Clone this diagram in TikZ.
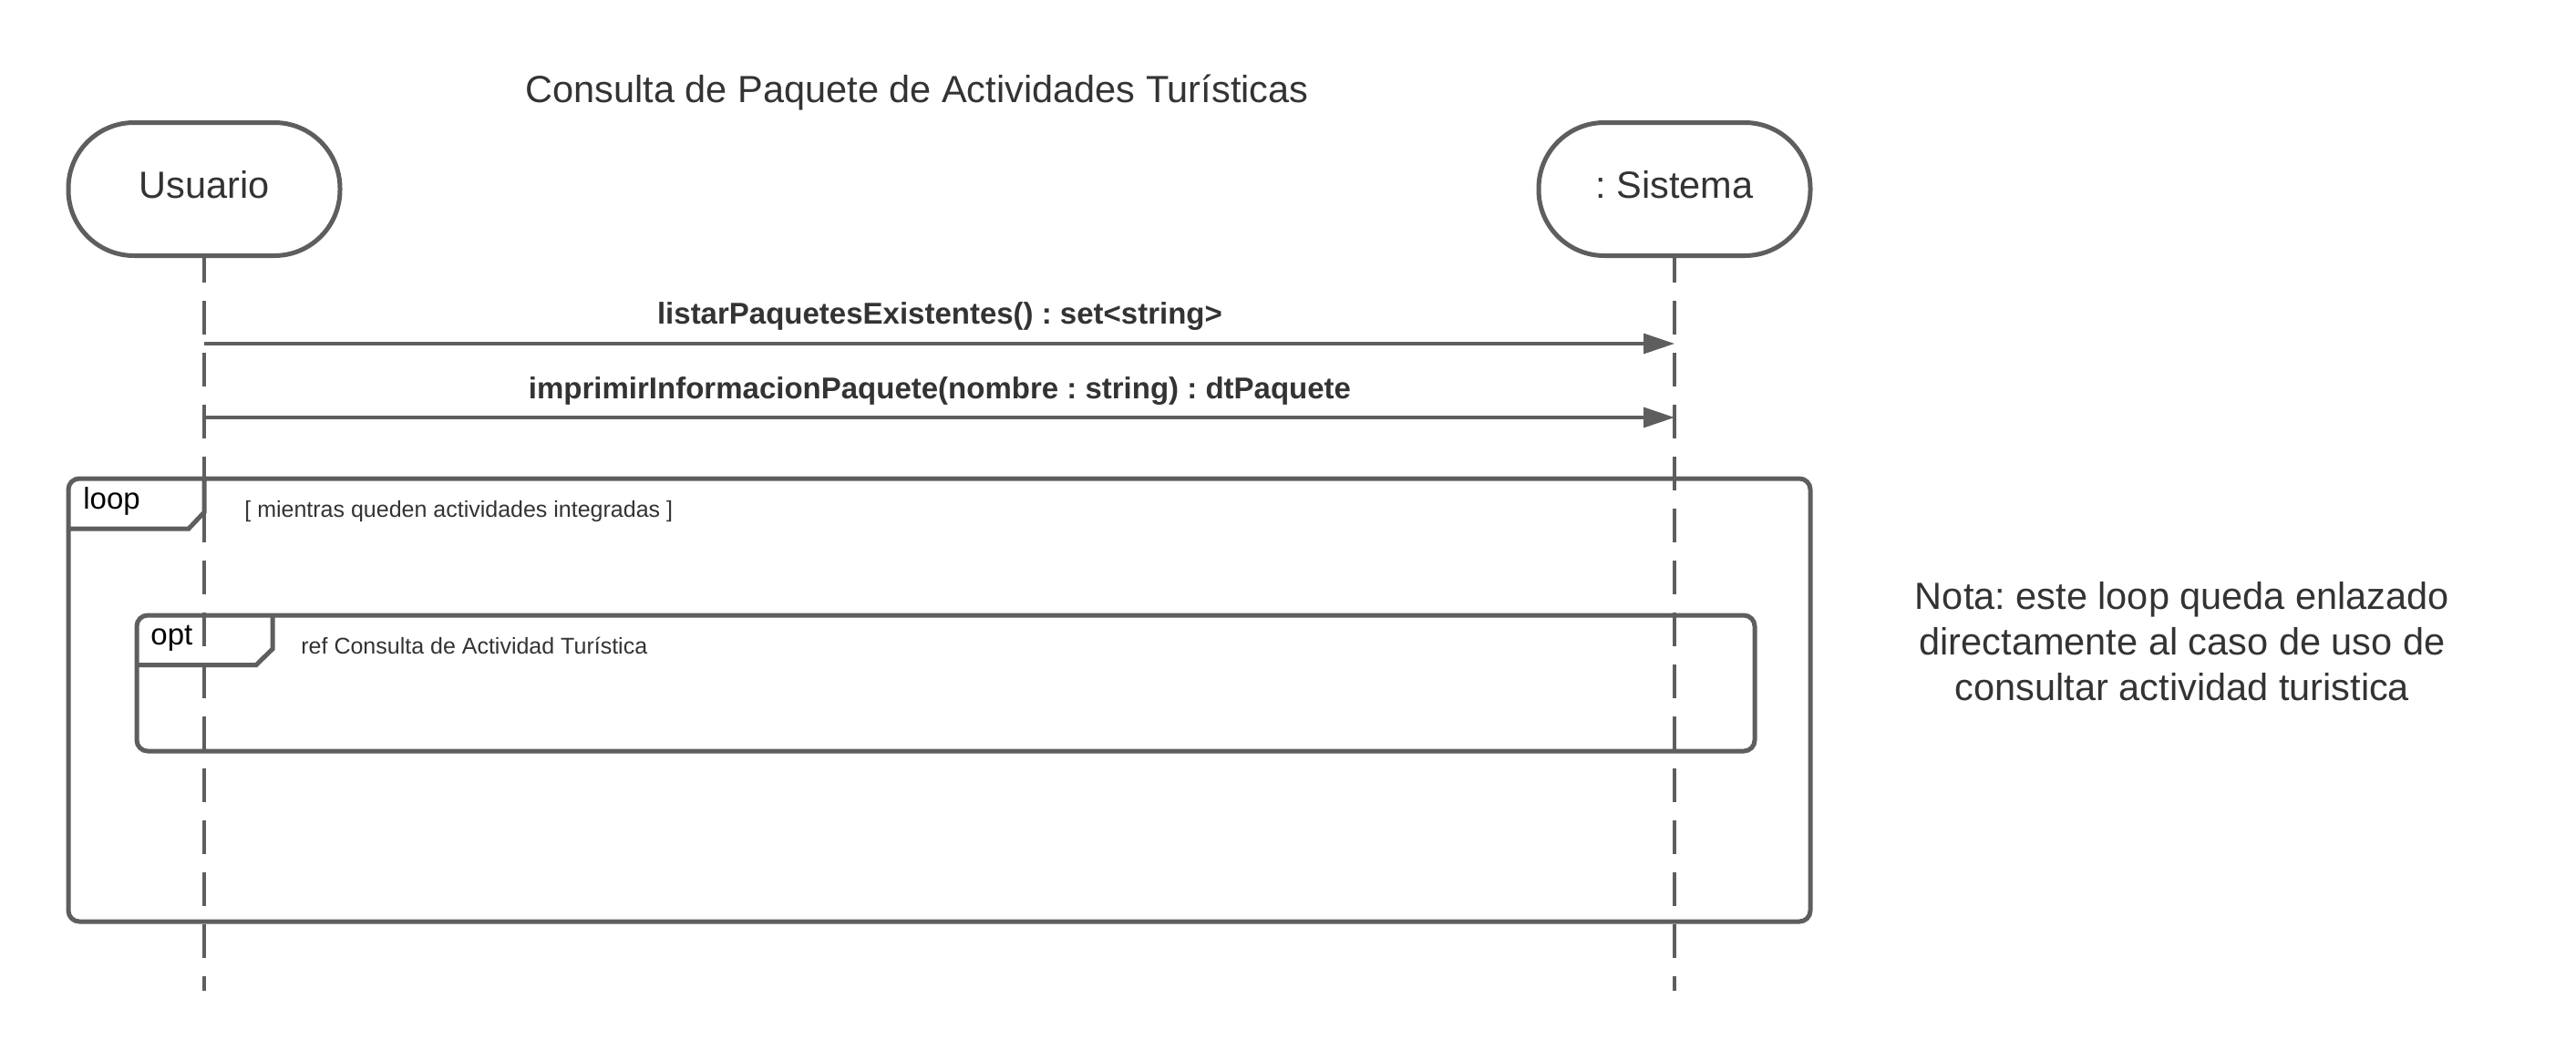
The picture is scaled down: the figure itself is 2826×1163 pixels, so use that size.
\documentclass[tikz,border=0pt]{standalone}
\usepackage{fontspec}
\setmainfont{Liberation Sans}
\usetikzlibrary{arrows.meta}
\frenchspacing
\definecolor{lc}{HTML}{5E5E5E}
\definecolor{tc}{HTML}{333333}
\tikzset{
  actor/.style={draw=lc, line width=2.5pt, rounded corners=36pt,
    minimum width=149pt, minimum height=73pt, inner sep=0pt, text=tc,
    font=\fontsize{20.75pt}{25pt}\selectfont, text depth=5.5pt},
  lifeline/.style={draw=lc, line width=2pt, dash pattern=on 18.5pt off 10pt, dash phase=5.25pt},
  msgline/.style={draw=lc, line width=1.6pt, -{Triangle[length=17pt,width=11pt]}},
  msglabel/.style={text=tc, font=\bfseries\fontsize{16.5pt}{20pt}\selectfont, anchor=base, inner sep=0pt},
  framebox/.style={draw=lc, line width=2.5pt, rounded corners=6pt, inner sep=0pt},
  tabline/.style={draw=lc, line width=2.5pt, line join=miter},
  kwlabel/.style={text=black, font=\fontsize{16.5pt}{20pt}\selectfont, anchor=base west, inner sep=0pt},
  guardlabel/.style={text=tc, font=\fontsize{12.5pt}{15pt}\selectfont, anchor=base west, inner sep=0pt},
  bigtext/.style={text=tc, font=\fontsize{20.75pt}{25pt}\selectfont, anchor=base, inner sep=0pt}
}
\begin{document}
\frenchspacing
\begin{tikzpicture}[x=0.5pt, y=-0.5pt]
\useasboundingbox[fill=white] (0,0) rectangle (2826,1163);

% title
\node[bigtext] (title) at (1006,112) {Consulta de Paquete de Actividades Turísticas};

% actors
\node[actor] (u) at (224,207.5) {Usuario};
\node[actor] (s) at (1837,207.5) {: Sistema};

% frames
\node[framebox, minimum width=955.5pt, minimum height=243pt] (loop) at (1030.5,768) {};
\draw[tabline] (224,525) -- (224,562) -- (207,580) -- (75,580);
\node[kwlabel] (looplbl) at (91,558) {loop};
\node[guardlabel] (guard) at (268,567) {[ mientras queden actividades integradas ]};

\node[framebox, minimum width=887.5pt, minimum height=74.5pt] (opt) at (1037.5,749.5) {};
\draw[tabline] (299,675) -- (299,712) -- (281,729.5) -- (150,729.5);
\node[kwlabel] (optlbl) at (165,707) {opt};
\node[guardlabel] (ref) at (330,717) {ref Consulta de Actividad Turística};

% lifelines
\coordinate (uend) at (224,1087);
\coordinate (send) at (1837,1087);
\draw[lifeline] (u.south) -- (uend);
\draw[lifeline] (s.south) -- (send);

% messages
\coordinate (m1) at (0,377);
\coordinate (m2) at (0,458);
\draw[msgline] (u |- m1) -- (s |- m1);
\draw[msgline] (u |- m2) -- (s |- m2);
\node[msglabel] (l1) at (1031,355) {listarPaquetesExistentes() : set<string>};
\node[msglabel] (l2) at (1031,437) {imprimirInformacionPaquete(nombre : string) : dtPaquete};

% note
\node[bigtext] (note1) at (2394,668) {Nota: este loop queda enlazado};
\node[bigtext] (note2) at (2394,718) {directamente al caso de uso de};
\node[bigtext] (note3) at (2394,768) {consultar actividad turistica};
\end{tikzpicture}
\end{document}
